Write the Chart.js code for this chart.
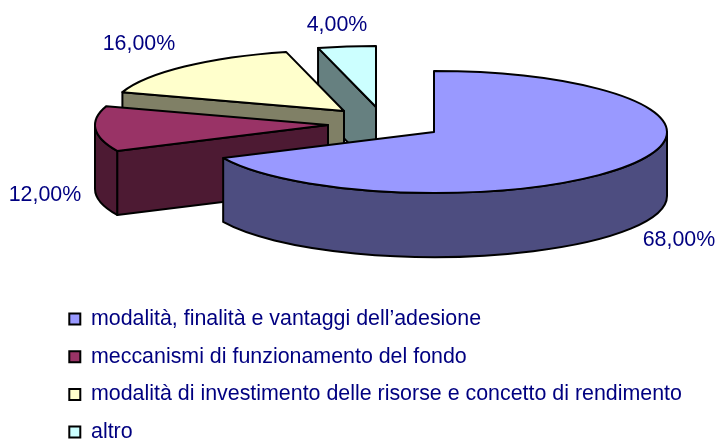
<!DOCTYPE html>
<html>
<head>
<meta charset="utf-8">
<title>Pie 3D</title>
<script src="https://cdn.jsdelivr.net/npm/chart.js@4"></script>
<style>
    html, body { margin: 0; background: #fff; }
    #box { position: relative; width: 717px; height: 439px; }
</style>
</head>
<body>
<div id="box"><canvas id="pieChart"></canvas></div>
<script>
const categories = [
    'modalità, finalità e vantaggi dell\u2019adesione',
    'meccanismi di funzionamento del fondo',
    'modalità di investimento delle risorse e concetto di rendimento',
    'altro'
];
const percentages = [68, 12, 16, 4];

const topColors = ['#9999FF', '#993366', '#FFFFCC', '#CCFFFF'];
const sideColors = ['#4D4D80', '#4D1A33', '#808066', '#668080'];

// apex of each exploded slice on screen, and where its label sits
const sliceCenters = [[434, 132], [328, 125], [344, 111], [376, 107]];
const labelCenters = [[679, 240], [45, 195], [139, 44], [337, 25]];

const RADIUS = 233;
const SQUASH = 61 / 233;
const DEPTH = 64;
const TEXT = '#000080';
const FONT = 'Liberation Sans';

const formatPct = v => v.toFixed(2).replace('.', ',') + '%';

// draws the pie tilted and extruded, using the angles the pie controller worked out
const tiltedPie = {
    id: 'tiltedPie',
    afterLayout(chart) {
        // legend sits under the pie, not in a side column
        const legend = chart.legend;
        legend.left = 53;
        legend.top = 292;
        legend.right = 717;
        legend.bottom = 520; // past the canvas, or the last item wraps to a second column
        legend.width = legend.right - legend.left;
        legend.height = legend.bottom - legend.top;
        legend.adjustHitBoxes();
    },
    beforeDatasetsDraw(chart) {
        const ctx = chart.ctx;
        const arcs = chart.getDatasetMeta(0).data;
        ctx.save();
        ctx.lineWidth = 2;
        ctx.lineJoin = 'round';
        ctx.strokeStyle = '#000';

        for (let i = arcs.length - 1; i >= 0; i--) {
            const a = arcs[i];
            const [cx, cy] = sliceCenters[i];
            const rx = a.outerRadius, ry = a.outerRadius * SQUASH;
            const px = t => cx + Math.cos(t) * rx;
            const py = t => cy + Math.sin(t) * ry;

            ctx.fillStyle = sideColors[i];

            // flat cut faces, only those turned towards the viewer
            const cuts = [];
            if (Math.cos(a.startAngle) < -1e-6) cuts.push(a.startAngle);
            if (Math.cos(a.endAngle) > 1e-6) cuts.push(a.endAngle);
            cuts.forEach(t => {
                ctx.beginPath();
                ctx.moveTo(cx, cy);
                ctx.lineTo(px(t), py(t));
                ctx.lineTo(px(t), py(t) + DEPTH);
                ctx.lineTo(cx, cy + DEPTH);
                ctx.closePath();
                ctx.fill();
                ctx.stroke();
            });

            // rounded outer wall
            const from = Math.max(a.startAngle, 0);
            const to = Math.min(a.endAngle, Math.PI);
            if (to > from) {
                ctx.beginPath();
                ctx.ellipse(cx, cy, rx, ry, 0, from, to);
                ctx.lineTo(px(to), py(to) + DEPTH);
                ctx.ellipse(cx, cy + DEPTH, rx, ry, 0, to, from, true);
                ctx.closePath();
                ctx.fill();
                ctx.stroke();
            }

            // top face
            ctx.fillStyle = topColors[i];
            ctx.beginPath();
            ctx.moveTo(cx, cy);
            ctx.ellipse(cx, cy, rx, ry, 0, a.startAngle, a.endAngle);
            ctx.closePath();
            ctx.fill();
            ctx.stroke();
        }

        ctx.fillStyle = TEXT;
        ctx.font = '21.4px "' + FONT + '"';
        ctx.textAlign = 'center';
        ctx.textBaseline = 'middle';
        percentages.forEach((v, i) => {
            ctx.fillText(formatPct(v), labelCenters[i][0], labelCenters[i][1]);
        });
        ctx.restore();
        return false;
    }
};

new Chart(document.getElementById('pieChart'), {
    type: 'pie',
    data: {
        labels: categories,
        datasets: [{
            data: percentages,
            backgroundColor: topColors,
            borderColor: '#000',
            borderWidth: 2
        }]
    },
    options: {
        responsive: true,
        maintainAspectRatio: false,
        animation: false,
        radius: RADIUS,
        plugins: {
            tooltip: { enabled: false },
            legend: {
                position: 'left',
                align: 'start',
                labels: {
                    boxWidth: 11,
                    boxHeight: 11,
                    padding: 16.3,
                    color: TEXT,
                    font: { family: FONT, size: 21.4 }
                }
            }
        }
    },
    plugins: [tiltedPie]
});
</script>
</body>
</html>
